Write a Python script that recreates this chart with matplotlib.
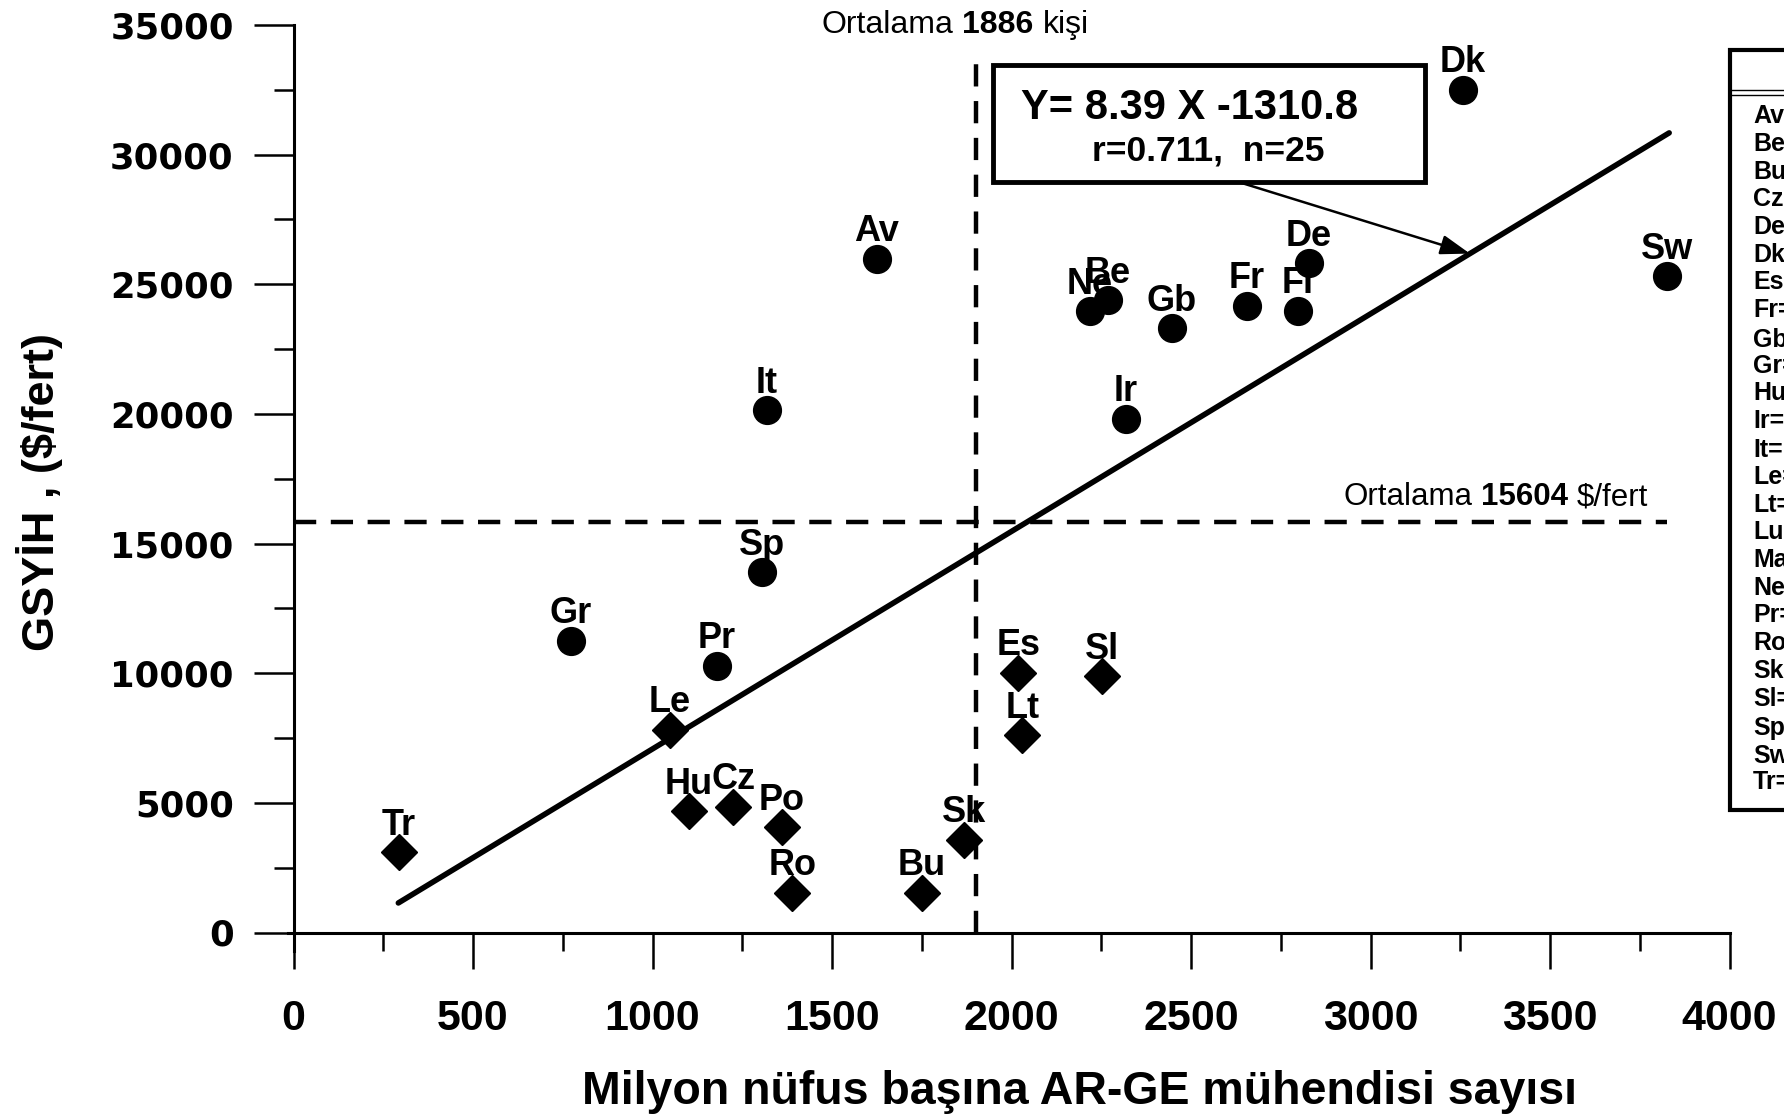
import matplotlib
matplotlib.use("Agg")
import matplotlib.pyplot as plt
from matplotlib.patches import Rectangle
from matplotlib.lines import Line2D
from matplotlib.offsetbox import TextArea, HPacker, AnnotationBbox
from matplotlib.ticker import MultipleLocator

plt.rcParams['font.family'] = ['Liberation Sans', 'DejaVu Sans']
plt.rcParams['lines.scale_dashes'] = False

# ---------------- data ----------------
circle_codes = ['Dk', 'Sw', 'De', 'Fr', 'Fi', 'Gb', 'Ne', 'Be', 'Ir', 'Av', 'It', 'Sp', 'Gr', 'Pr']
circle_x = [3257, 3827, 2829, 2655, 2797, 2446, 2219, 2269, 2319, 1624, 1318, 1306, 773, 1179]
circle_y = [32506, 25308, 25817, 24171, 23979, 23311, 23952, 24376, 19815, 25991, 20143, 13886, 11253, 10289]

diamond_codes = ['Le', 'Hu', 'Cz', 'Po', 'Ro', 'Bu', 'Sk', 'Tr', 'Es', 'Sl', 'Lt']
diamond_x = [1049, 1102, 1225, 1360, 1389, 1750, 1868, 294, 2019, 2253, 2030]
diamond_y = [7826, 4677, 4846, 4059, 1530, 1530, 3585, 3092, 10015, 9888, 7600]

slope = 8.39
intercept = -1310.8
r_value = 0.711
n_value = 25
fit_x = [292, 3832]

mean_x_label = 1886
mean_y_label = 15604
vline_x = 1902
vline_top = 33700
hline_y = 15813
hline_end = 3825

arrow_tail = (2631, 28951)
arrow_tip_x = 3277

legend_codes = ['Av=Avusturya', 'Be=Belçika', 'Bu=Bulgaristan', 'Cz=Çek Cumhuriyeti', 'De=Almanya',
                'Dk=Danimarka', 'Es=Estonya', 'Fr=Fransa', 'Gb=İngiltere', 'Gr=Yunanistan',
                'Hu=Macaristan', 'Ir=İrlanda', 'It=İtalya', 'Le=Letonya', 'Lt=Litvanya',
                'Lu=Lüksemburg', 'Ma=Malta', 'Ne=Hollanda', 'Pr=Portekiz', 'Ro=Romanya',
                'Sk=Slovakya', 'Sl=Slovenya', 'Sp=İspanya', 'Sw=İsveç', 'Tr=Türkiye']

x_ticks = [0, 500, 1000, 1500, 2000, 2500, 3000, 3500, 4000]
y_ticks = [0, 5000, 10000, 15000, 20000, 25000, 30000, 35000]

# ---------------- layout ----------------
W, H = 1784, 1117
fig = plt.figure(figsize=(W / 100, H / 100), dpi=100)

x0px, x1px = 293.5, 1729.5
y0px, y1px = 932.5, 25.0
xmin, ymin = -15, -700
sx = (x1px - x0px) / 4000.0
sy = (y0px - y1px) / 35000.0
left_px = x0px + xmin * sx
bottom_px = y0px - ymin * sy
ax = fig.add_axes([left_px / W, 1 - bottom_px / H, (x1px - left_px) / W, (bottom_px - y1px) / H])
ax.set_xlim(xmin, 4000)
ax.set_ylim(ymin, 35000)
ax.patch.set_alpha(0)

for s in ['top', 'right']:
    ax.spines[s].set_visible(False)
ax.spines['left'].set_position(('data', 0))
ax.spines['bottom'].set_position(('data', 0))
ax.spines['left'].set_linewidth(2.2)
ax.spines['bottom'].set_linewidth(2.2)

ax.set_xticks(x_ticks)
ax.set_yticks(y_ticks)
ax.xaxis.set_minor_locator(MultipleLocator(250))
ax.yaxis.set_minor_locator(MultipleLocator(2500))
ax.tick_params(axis='x', which='major', direction='out', length=26, width=1.8, pad=22, labelsize=31)
ax.tick_params(axis='x', which='minor', direction='out', length=13, width=1.8)
ax.tick_params(axis='y', which='major', direction='out', length=29, width=1.8, pad=14, labelsize=25.5)
ax.tick_params(axis='y', which='minor', direction='out', length=14.5, width=1.8)
for lab in ax.get_xticklabels():
    lab.set_fontweight('bold')
for lab in ax.get_yticklabels():
    lab.set_fontweight('bold')
    lab.set_family('DejaVu Sans')

# regression line
ax.plot(fit_x, [slope * v + intercept for v in fit_x], color='black', lw=4.0,
        solid_capstyle='round', zorder=3)

# mean lines
ax.plot([vline_x, vline_x], [0, vline_top], color='black', lw=3.2, dashes=(16, 10.5), zorder=2)
ax.plot([0, hline_end], [hline_y, hline_y], color='black', lw=3.2, dashes=(16, 10.5), zorder=2)

# markers
ax.plot(circle_x, circle_y, 'o', color='black', ms=20, zorder=4)
ax.plot(diamond_x, diamond_y, 'D', color='black', ms=18.5, zorder=4)

for c, x, y in zip(circle_codes + diamond_codes, circle_x + diamond_x, circle_y + diamond_y):
    ax.annotate(c, (x, y), xytext=(0, 12.5), textcoords='offset points', ha='center',
                va='baseline', fontsize=26, fontweight='bold', zorder=5)

# arrow to fit line
ax.annotate('', xy=(arrow_tip_x, slope * arrow_tip_x + intercept), xytext=arrow_tail,
            arrowprops=dict(arrowstyle='-|>,head_length=0.9,head_width=0.3', lw=1.8,
                            color='black', mutation_scale=20, shrinkA=0, shrinkB=0), zorder=6)

# equation box
fig.patches.append(Rectangle((993 / W, 1 - 182 / H), 432 / W, 117 / H, transform=fig.transFigure,
                             facecolor='white', edgecolor='black', lw=3.5, zorder=10))
fig.text(1190 / W, 1 - 108 / H, f'Y= {slope} X {intercept}', ha='center', va='center',
         fontsize=30, fontweight='bold', zorder=11)
fig.text(1208 / W, 1 - 151 / H, f'r={r_value},  n={n_value}', ha='center', va='center',
         fontsize=25.5, fontweight='bold', zorder=11)


def mixed(parts, xy, size):
    kids = [TextArea(t, textprops=dict(fontsize=size, fontweight=w, family='Liberation Sans'))
            for t, w in parts]
    pack = HPacker(children=kids, align='baseline', pad=0, sep=size * 0.28)
    ab = AnnotationBbox(pack, xy, xycoords='figure pixels', frameon=False,
                        box_alignment=(0.5, 0.5), pad=0)
    fig.add_artist(ab)


mixed([('Ortalama', 'normal'), (str(mean_x_label), 'bold'), ('kişi', 'normal')], (955, H - 25), 23)
mixed([('Ortalama', 'normal'), (str(mean_y_label), 'bold'), ('$/fert', 'normal')], (1496, H - 497), 22.5)

# axis titles
fig.text(1080 / W, 1 - 1104 / H, 'Milyon nüfus başına AR-GE mühendisi sayısı', ha='center',
         va='baseline', fontsize=33.5, fontweight='bold')
fig.text(40 / W, 1 - 492 / H, 'GSYİH , ($/fert)', ha='center', va='center', rotation=90,
         fontsize=32.5, fontweight='bold')

# country legend box (cut by right edge)
fig.patches.append(Rectangle((1730 / W, 1 - 810 / H), 200 / W, 760 / H, transform=fig.transFigure,
                             facecolor='white', edgecolor='black', lw=3.0, zorder=10))
for yy in (89.5, 94.5):
    fig.add_artist(Line2D([1731 / W, 1.0], [1 - yy / H, 1 - yy / H], transform=fig.transFigure,
                          color='black', lw=1.0, zorder=11))
for i, t in enumerate(legend_codes):
    fig.text(1753 / W, 1 - (116 + i * 27.75) / H, t, ha='left', va='center', fontsize=18,
             fontweight='bold', zorder=12)

fig.savefig('out.png', dpi=100)
